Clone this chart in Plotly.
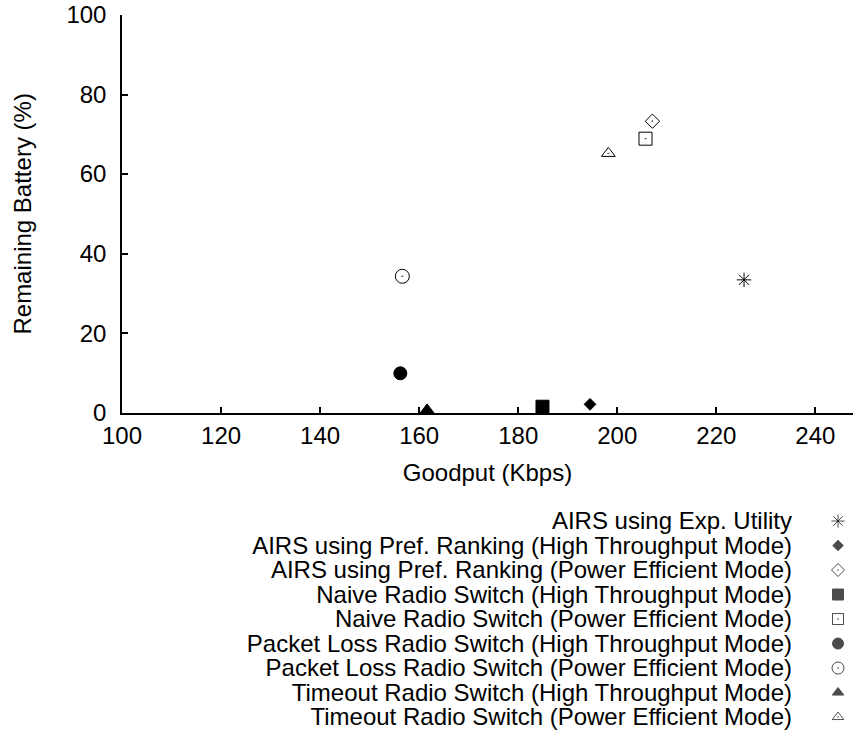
import plotly.graph_objects as go

# Valores
nomes = [
    "AIRS using Exp. Utility",
    "AIRS using Pref. Ranking (High Throughput Mode)",
    "AIRS using Pref. Ranking (Power Efficient Mode)",
    "Naive Radio Switch (High Throughput Mode)",
    "Naive Radio Switch (Power Efficient Mode)",
    "Packet Loss Radio Switch (High Throughput Mode)",
    "Packet Loss Radio Switch (Power Efficient Mode)",
    "Timeout Radio Switch (High Throughput Mode)",
    "Timeout Radio Switch (Power Efficient Mode)",
]
goodput = [225.6, 194.5, 207.1, 184.9, 205.7, 156.2, 156.6, 161.6, 198.2]
bateria = [33.4, 2.1, 73.3, 1.5, 68.9, 9.9, 34.3, 0.7, 65.2]

simbolos = ["asterisk-open", "diamond", "diamond-open-dot", "square", "square-open-dot",
            "circle", "circle-open-dot", "triangle-up", "triangle-up-open-dot"]
tamanhos = [12, 9, 11, 13, 13, 13, 14, 12, 12]
tamanhos_leg = [11, 8, 10, 11, 11, 11, 12, 10, 10]

fonte = dict(family="Liberation Sans, Arial, sans-serif", size=24, color="black")

fig = go.Figure()

# Pontos do gráfico principal
for i, nome in enumerate(nomes):
    fig.add_trace(go.Scatter(
        x=[goodput[i]], y=[bateria[i]],
        mode="markers",
        marker=dict(symbol=simbolos[i], size=tamanhos[i], color="black",
                    line=dict(color="black", width=1)),
        cliponaxis=False,
        name=nome,
        showlegend=False,
    ))

# Legenda estilo gnuplot (texto à esquerda, símbolo à direita) num eixo auxiliar
fig.add_trace(go.Scatter(
    x=[0.5] * len(nomes), y=nomes,
    xaxis="x2", yaxis="y2",
    mode="markers",
    marker=dict(symbol=simbolos, size=tamanhos_leg, color="black",
                line=dict(color="black", width=1)),
    cliponaxis=False,
    showlegend=False,
    hoverinfo="skip",
))

fig.update_layout(
    width=853, height=730,
    margin=dict(l=122, r=0, t=15, b=0),
    plot_bgcolor="white", paper_bgcolor="white",
    font=fonte,
    showlegend=False,
    xaxis=dict(
        range=[100, 247.6], domain=[0, 1], anchor="y", automargin=False,
        tickvals=[100, 120, 140, 160, 180, 200, 220, 240],
        ticks="inside", ticklen=6, tickwidth=1.5, tickcolor="black",
        showline=True, linecolor="black", linewidth=1.5,
        showgrid=False, zeroline=False,
        tickfont=fonte, ticklabelstandoff=1,
        title=dict(text="Goodput (Kbps)", font=fonte, standoff=16),
    ),
    yaxis=dict(
        range=[0, 100], domain=[0.4438, 1], anchor="x", automargin=False,
        tickvals=[0, 20, 40, 60, 80, 100],
        ticks="inside", ticklen=6, tickwidth=1.5, tickcolor="black",
        showline=True, linecolor="black", linewidth=1.5,
        showgrid=False, zeroline=False,
        tickfont=fonte, ticklabelstandoff=9,
        title=dict(text="Remaining Battery (%)", font=fonte, standoff=28),
    ),
    xaxis2=dict(
        range=[0, 1], domain=[0.959, 1], anchor="y2", automargin=False,
        visible=False,
    ),
    yaxis2=dict(
        domain=[0.001, 0.3094], anchor="x2", automargin=False,
        type="category", range=[len(nomes) - 0.5, -0.5],
        tickmode="array", tickvals=nomes, ticktext=nomes,
        showline=False, showgrid=False, zeroline=False, ticks="",
        tickfont=fonte, ticklabelstandoff=30,
    ),
)

fig.write_html("out.html", config={"displayModeBar": False},
               post_script="document.body.style.margin='0';")
